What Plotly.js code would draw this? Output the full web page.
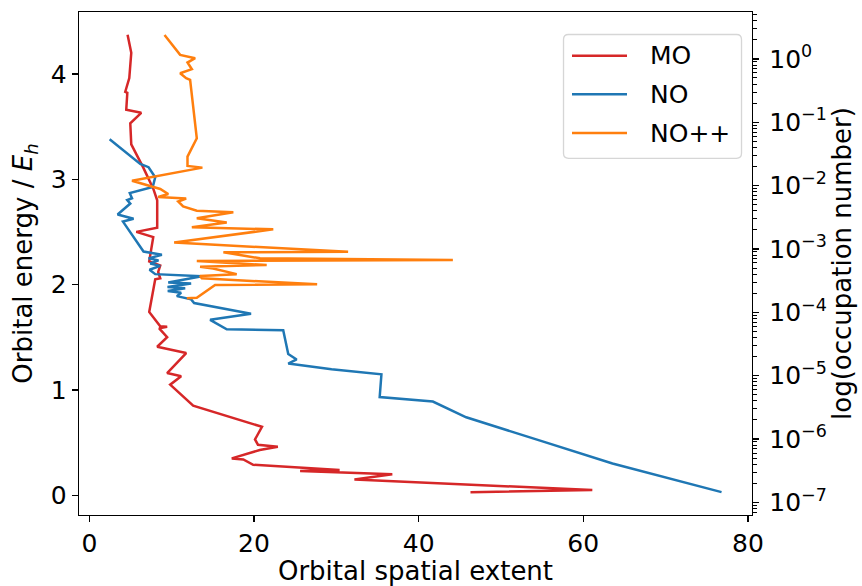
<!DOCTYPE html>
<html>
<head>
<meta charset="utf-8">
<script src="https://cdn.plot.ly/plotly-3.0.1.min.js"></script>
<style>
  html, body { margin: 0; padding: 0; background: #ffffff; }
  #chart { width: 862px; height: 586px; }
</style>
</head>
<body>
<div id="chart"></div>
<script>
// Canonical molecular orbitals: spatial extent vs orbital energy (left axis)
const moExtent = [4.64, 5.09, 4.85, 4.36, 4.61, 4.48, 6.30, 4.97, 5.09, 6.55, 7.76, 8.24, 8.24, 5.70, 7.76,
  7.27, 8.61, 8.36, 8.61, 8.00, 7.27, 8.61, 9.45, 8.48, 9.45, 8.24, 11.76, 9.45, 11.15, 9.82, 12.61,
  20.97, 20.12, 20.48, 22.90, 20.70, 17.30, 18.70, 19.90, 30.40, 25.60, 30.40, 33.80, 36.80, 32.20, 61.10, 46.30];
const moEnergy = [4.37, 4.20, 3.96, 3.83, 3.82, 3.66, 3.63, 3.53, 3.33, 3.11, 2.91, 2.80, 2.54, 2.50, 2.45,
  2.22, 2.18, 2.12, 2.06, 2.05, 1.74, 1.605, 1.60, 1.585, 1.50, 1.41, 1.35, 1.16, 1.13, 1.05, 0.85,
  0.65, 0.53, 0.48, 0.46, 0.43, 0.35, 0.34, 0.29, 0.240, 0.230, 0.220, 0.21, 0.20, 0.15, 0.05, 0.03];

// Natural orbitals: spatial extent vs occupation number (right axis)
const noExtent = [2.46, 6.18, 7.19, 8.00, 7.70, 4.91, 5.18, 4.60, 4.97, 3.43, 5.37, 4.08, 6.58, 8.81, 7.19,
  8.40, 7.39, 8.60, 7.31, 8.00, 13.66, 9.58, 12.36, 9.49, 11.64, 9.52, 11.15, 10.63, 12.36, 12.73, 19.64,
  14.67, 16.69, 23.55, 24.16, 25.18, 24.16, 29.42, 35.48, 35.27, 41.73, 45.78, 54.67, 63.55, 76.80];
const noOcc = [5.4e-2, 2.2e-2, 1.95e-2, 1.35e-2, 9.5e-3, 7.6e-3, 6.3e-3, 5.9e-3, 5.2e-3, 3.5e-3, 3.0e-3, 2.7e-3,
  9.1e-4, 8.1e-4, 7.1e-4, 6.6e-4, 5.9e-4, 5.4e-4, 4.7e-4, 4.0e-4, 3.7e-4, 2.95e-4, 2.84e-4, 2.5e-4, 2.4e-4,
  2.16e-4, 2.04e-4, 1.8e-4, 1.6e-4, 1.4e-4, 9.5e-5, 7.6e-5, 5.4e-5, 5.2e-5, 2.2e-5, 1.8e-5, 1.55e-5,
  1.26e-5, 1.05e-5, 4.6e-6, 3.9e-6, 2.2e-6, 9.5e-7, 4.1e-7, 1.45e-7];

// NO++ orbitals: spatial extent vs occupation number (right axis)
const noppExtent = [9.13, 11.03, 12.85, 11.92, 12.45, 11.03, 11.76, 12.24, 13.05, 11.92, 11.92, 13.73, 5.18,
  8.61, 9.58, 8.36, 11.76, 10.79, 11.39, 13.05, 17.49, 13.05, 16.69, 12.45, 22.34, 10.30, 31.43, 16.28,
  20.73, 44.16, 13.05, 21.54, 13.45, 15.03, 17.90, 13.45, 13.66, 27.67, 15.27, 13.05, 11.84];
const noppOcc = [2.39, 1.156, 1.026, 0.875, 0.687, 0.594, 0.495, 0.466, 5.58e-2, 2.86e-2, 2.04e-2, 1.92e-2,
  1.194e-2, 8.83e-3, 7.36e-3, 6.61e-3, 6.25e-3, 5.61e-3, 4.68e-3, 4.01e-3, 3.78e-3, 3.04e-3, 2.61e-3,
  2.19e-3, 2.04e-3, 1.26e-3, 9.0e-4, 8.87e-4, 7.1e-4, 6.68e-4, 6.44e-4, 5.57e-4, 5.24e-4, 4.9e-4, 4.0e-4,
  3.73e-4, 3.44e-4, 2.76e-4, 2.69e-4, 1.69e-4, 1.66e-4];

// Series names and colours (legend order)
const seriesNames = ['MO', 'NO', 'NO++'];
const seriesColors = ['#d62728', '#1f77b4', '#ff7f0e'];

// Decade labels for the occupation axis
const occTickVals = [1e-7, 1e-6, 1e-5, 1e-4, 1e-3, 1e-2, 1e-1, 1e0];
const occTickText = ['10<sup>−7</sup>', '10<sup>−6</sup>', '10<sup>−5</sup>', '10<sup>−4</sup>',
  '10<sup>−3</sup>', '10<sup>−2</sup>', '10<sup>−1</sup>', '10<sup>0</sup>'];

// minor ticks at 2..9 within each decade
const occMinorVals = [];
for (let e = -8; e <= 0; e++) {
  for (let m = 2; m <= 9; m++) occMinorVals.push(m * Math.pow(10, e));
}

const FONT = 'DejaVu Sans, Verdana, sans-serif';
const TICK_FS = 25;
const TITLE_FS = 26;
const LEG_FS = 25;
const LW = 2.5;      // data line width
const SPINE = 1.3;   // axis line / tick width

// plot-area geometry in pixels, used to place the legend box
const W = 862, H = 586;
const M = { l: 79, r: 110, t: 12, b: 71 };
const PW = W - M.l - M.r, PH = H - M.t - M.b;
const px = v => (v - M.l) / PW;
const py = v => (H - M.b - v) / PH;

const traces = [
  { x: moExtent, y: moEnergy, name: seriesNames[0], type: 'scatter', mode: 'lines',
    line: { color: seriesColors[0], width: LW }, yaxis: 'y' },
  { x: noExtent, y: noOcc, name: seriesNames[1], type: 'scatter', mode: 'lines',
    line: { color: seriesColors[1], width: LW }, yaxis: 'y2' },
  { x: noppExtent, y: noppOcc, name: seriesNames[2], type: 'scatter', mode: 'lines',
    line: { color: seriesColors[2], width: LW }, yaxis: 'y2' }
];

// Legend: rounded frame, line samples and labels
const box = { x0: 563.5, x1: 741.5, y0: 34.5, y1: 158.3, r: 5 };
function roundedRectPath(b) {
  const X = v => px(v), Y = v => py(v);
  const rx = b.r / PW, ry = b.r / PH;
  const l = X(b.x0), rr = X(b.x1), t = Y(b.y0), bo = Y(b.y1);
  return `M ${l + rx},${t} L ${rr - rx},${t} Q ${rr},${t} ${rr},${t - ry} ` +
         `L ${rr},${bo + ry} Q ${rr},${bo} ${rr - rx},${bo} ` +
         `L ${l + rx},${bo} Q ${l},${bo} ${l},${bo + ry} ` +
         `L ${l},${t - ry} Q ${l},${t} ${l + rx},${t} Z`;
}
const legendRows = [55.7, 94.3, 133];
const shapes = [{
  type: 'path', xref: 'paper', yref: 'paper', path: roundedRectPath(box),
  fillcolor: 'rgba(255,255,255,0.8)', line: { color: 'rgba(204,204,204,0.8)', width: 1.3 }, layer: 'above'
}];
const annotations = [];
seriesNames.forEach((name, i) => {
  shapes.push({
    type: 'line', xref: 'paper', yref: 'paper', layer: 'above',
    x0: px(572), x1: px(627), y0: py(legendRows[i]), y1: py(legendRows[i]),
    line: { color: seriesColors[i], width: LW }
  });
  annotations.push({
    xref: 'paper', yref: 'paper', x: px(648), y: py(legendRows[i]),
    xanchor: 'left', yanchor: 'middle', showarrow: false, text: name,
    font: { family: FONT, size: LEG_FS, color: '#000000' }
  });
});

const layout = {
  width: W, height: H,
  margin: M,
  paper_bgcolor: '#ffffff', plot_bgcolor: '#ffffff',
  font: { family: FONT, size: TICK_FS, color: '#000000' },
  showlegend: false,
  shapes: shapes,
  annotations: annotations,
  xaxis: {
    range: [-1.26, 80.5], showgrid: false, zeroline: false,
    showline: true, linecolor: '#000000', linewidth: SPINE, mirror: true,
    ticks: 'outside', ticklen: 6, tickwidth: SPINE, tickcolor: '#000000',
    tickvals: [0, 20, 40, 60, 80],
    tickfont: { family: FONT, size: TICK_FS },
    title: { text: 'Orbital spatial extent', font: { family: FONT, size: TITLE_FS }, standoff: 10 }
  },
  yaxis: {
    range: [-0.187, 4.587], showgrid: false, zeroline: false,
    showline: true, linecolor: '#000000', linewidth: SPINE,
    ticks: 'outside', ticklen: 6, tickwidth: SPINE, tickcolor: '#000000',
    tickvals: [0, 1, 2, 3, 4],
    tickfont: { family: FONT, size: TICK_FS },
    title: { text: 'Orbital energy / <i>E</i><sub><i>h</i></sub>', font: { family: FONT, size: TITLE_FS }, standoff: 10 }
  },
  yaxis2: {
    type: 'log', overlaying: 'y', side: 'right',
    range: [-7.2, 0.74], showgrid: false, zeroline: false,
    showline: true, linecolor: '#000000', linewidth: SPINE,
    ticks: 'outside', ticklen: 6, tickwidth: SPINE, tickcolor: '#000000',
    ticklabelstandoff: 5,
    tickmode: 'array', tickvals: occTickVals, ticktext: occTickText,
    tickfont: { family: FONT, size: TICK_FS },
    minor: { tickmode: 'array', tickvals: occMinorVals, ticks: 'outside', ticklen: 3.3, tickwidth: 1, tickcolor: '#000000', showgrid: false },
    title: { text: 'log(occupation number)', font: { family: FONT, size: TITLE_FS }, standoff: 6 }
  }
};

Plotly.newPlot('chart', traces, layout, { displayModeBar: false, staticPlot: true });
</script>
</body>
</html>
